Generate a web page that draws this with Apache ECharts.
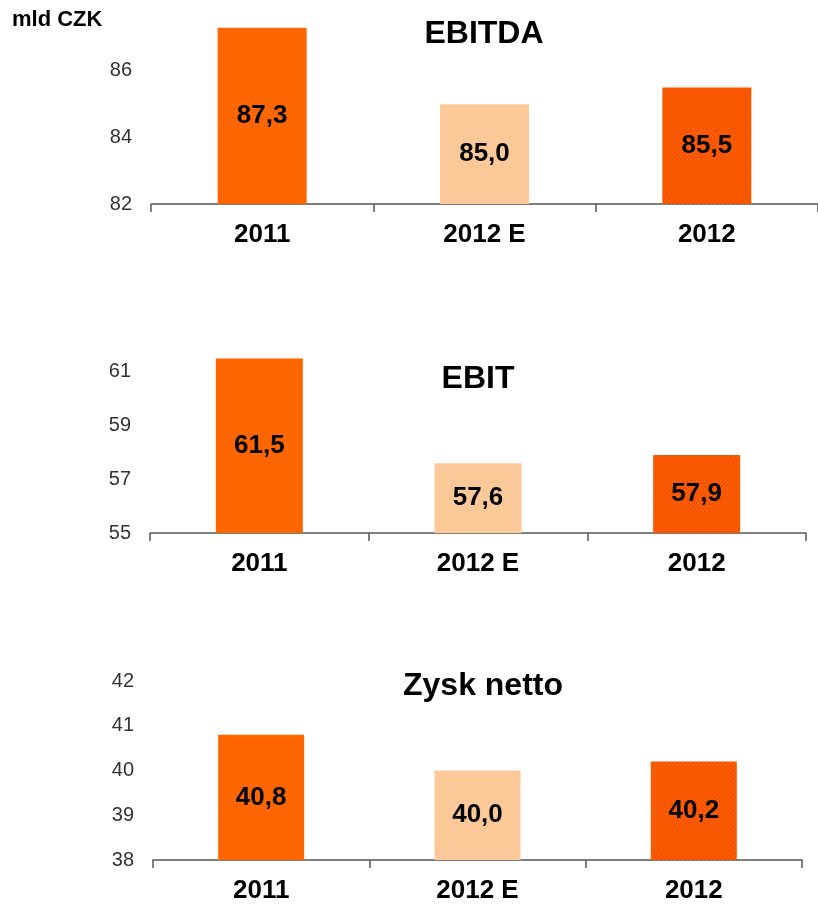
<!DOCTYPE html>
<html>
<head>
<meta charset="utf-8">
<title>EBITDA, EBIT, Zysk netto</title>
<script src="https://cdn.jsdelivr.net/npm/echarts@6/dist/echarts.min.js"></script>
<style>
  html, body { margin: 0; padding: 0; background: #fff; }
  #chart { width: 818px; height: 904px; }
</style>
</head>
<body>
<div id="chart"></div>
<script>
// dane (mld CZK)
const categories = ['2011', '2012 E', '2012'];
const ebitda = [87.3, 85.0, 85.5];
const ebit = [61.5, 57.6, 57.9];
const zyskNetto = [40.8, 40.0, 40.2];
const panelTitles = ['EBITDA', 'EBIT', 'Zysk netto'];

const FONT = '"Liberation Sans", Arial, sans-serif';

// szrafowany słupek (2012)
function hatch() {
  const c = document.createElement('canvas');
  c.width = 4; c.height = 4;
  const ctx = c.getContext('2d');
  ctx.fillStyle = '#ff5c00';
  ctx.fillRect(0, 0, 4, 4);
  ctx.strokeStyle = '#e84c00';
  ctx.lineWidth = 1;
  ctx.beginPath();
  ctx.moveTo(0, 4); ctx.lineTo(4, 0);
  ctx.moveTo(-1, 1); ctx.lineTo(1, -1);
  ctx.moveTo(3, 5); ctx.lineTo(5, 3);
  ctx.stroke();
  return c;
}
const barColors = ['#ff6600', '#fdc998', { image: hatch(), repeat: 'repeat' }];

function colored(values) {
  return values.map((v, i) => ({ value: v, itemStyle: { color: barColors[i] } }));
}

const grids = [
  { left: 151, right: -8, top: 21, height: 183 },
  { left: 150, right: 12, top: 345, height: 188 },
  { left: 153, right: 16, top: 681, height: 179 }
];
const yRanges = [
  { min: 82, max: 87.5, interval: 2 },
  { min: 55, max: 62, interval: 2 },
  { min: 38, max: 42, interval: 1 }
];
const barWidths = [89, 87, 86];
const dataSets = [ebitda, ebit, zyskNetto];

const titleStyle = { fontFamily: FONT, fontSize: 32, fontWeight: 'bold', color: '#000' };

const option = {
  backgroundColor: '#fff',
  animation: false,
  title: [
    { text: 'mld CZK', left: 12, top: 9, padding: 0,
      textStyle: { fontFamily: FONT, fontSize: 22, fontWeight: 'bold', color: '#000' } },
    { text: panelTitles[0], left: 484, top: 18, padding: 0, textAlign: 'center', textStyle: titleStyle },
    { text: panelTitles[1], left: 478, top: 363, padding: 0, textAlign: 'center', textStyle: titleStyle },
    { text: panelTitles[2], left: 483, top: 670, padding: 0, textAlign: 'center', textStyle: titleStyle }
  ],
  grid: grids,
  xAxis: grids.map((g, i) => ({
    type: 'category',
    gridIndex: i,
    data: categories,
    axisLine: { lineStyle: { color: '#555', width: 1.5 } },
    axisTick: { show: true, length: 8, lineStyle: { color: '#555', width: 1.5 } },
    axisLabel: { margin: 18, fontFamily: FONT, fontSize: 26, fontWeight: 'bold', color: '#000' }
  })),
  yAxis: yRanges.map((r, i) => ({
    type: 'value',
    gridIndex: i,
    min: r.min,
    max: r.max,
    interval: r.interval,
    axisLine: { show: false },
    axisTick: { show: false },
    splitLine: { show: false },
    axisLabel: { margin: 19, showMaxLabel: i === 2, fontFamily: FONT, fontSize: 20, color: '#333' }
  })),
  series: dataSets.map((d, i) => ({
    type: 'bar',
    xAxisIndex: i,
    yAxisIndex: i,
    barWidth: barWidths[i],
    data: colored(d),
    label: {
      show: true,
      position: 'inside',
      fontFamily: FONT,
      fontSize: 26,
      fontWeight: 'bold',
      color: '#000',
      formatter: p => p.value.toFixed(1).replace('.', ',')
    }
  }))
};

echarts.init(document.getElementById('chart')).setOption(option);
</script>
</body>
</html>
